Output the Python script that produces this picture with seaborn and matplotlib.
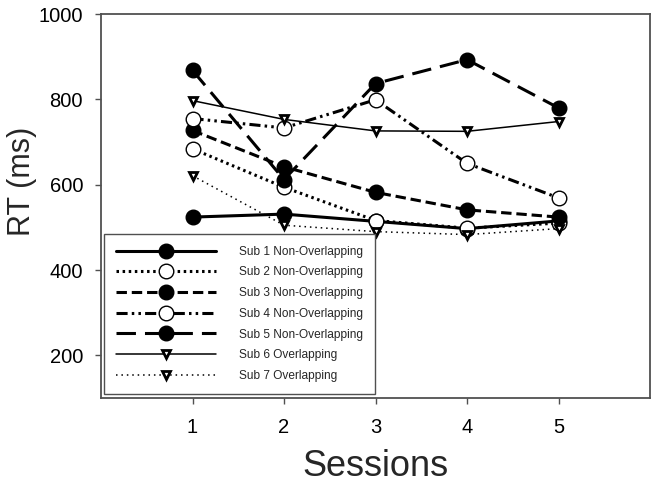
import matplotlib
matplotlib.use('Agg')
import matplotlib.pyplot as plt
import seaborn as sns

# Data
sessions = [1, 2, 3, 4, 5]
sub1 = [524, 531, 514, 497, 515]
sub2 = [684, 594, 516, 498, 510]
sub3 = [727, 642, 582, 541, 524]
sub4 = [755, 733, 799, 650, 569]
sub5 = [868, 612, 837, 893, 780]
sub6 = [797, 753, 726, 725, 748]
sub7 = [621, 505, 490, 483, 497]
labels = ['Sub 1 Non-Overlapping', 'Sub 2 Non-Overlapping', 'Sub 3 Non-Overlapping',
          'Sub 4 Non-Overlapping', 'Sub 5 Non-Overlapping', 'Sub 6 Overlapping',
          'Sub 7 Overlapping']
series = [sub1, sub2, sub3, sub4, sub5, sub6, sub7]

sns.set_style('ticks')
plt.rcParams['font.family'] = ['Liberation Sans', 'DejaVu Sans']
plt.rcParams['lines.scale_dashes'] = False

# line styles (dash patterns in points)
styles = [
    dict(linestyle='-', linewidth=2.2, marker='o', markersize=10.5, markerfacecolor='black'),
    dict(linestyle=(0, (1.8, 2.6)), linewidth=2.2, marker='o', markersize=10.5, markerfacecolor='white'),
    dict(linestyle=(0, (7.5, 3.5)), linewidth=2.2, marker='o', markersize=10.5, markerfacecolor='black'),
    dict(linestyle=(0, (8, 3, 1.8, 3, 1.8, 3)), linewidth=2.2, marker='o', markersize=10.5, markerfacecolor='white'),
    dict(linestyle=(0, (14, 6.5)), linewidth=2.2, marker='o', markersize=10.5, markerfacecolor='black'),
    dict(linestyle='-', linewidth=1.1, marker='v', markersize=6, markerfacecolor='white'),
    dict(linestyle=(0, (1.1, 2.8)), linewidth=1.1, marker='v', markersize=6, markerfacecolor='white'),
]

fig = plt.figure(figsize=(6.55, 4.92), dpi=100)
ax = fig.add_axes([101 / 655, 1 - 398 / 492, 549 / 655, 384 / 492])

for vals, lab, st in zip(series, labels, styles):
    mew = 1.0 if st['marker'] == 'o' else 2.0
    sns.lineplot(x=sessions, y=vals, ax=ax, label=lab, color='black',
                 markeredgecolor='black', markeredgewidth=mew, **st)

ax.set_xlim(0, 6)
ax.set_ylim(100, 1000)
ax.set_xticks(sessions)
ax.set_yticks([200, 400, 600, 800, 1000])

for sp in ax.spines.values():
    sp.set_color('#505050')
    sp.set_linewidth(1.3)

ax.tick_params(axis='both', direction='out', length=4.3, width=1.0,
               color='#505050', labelsize=14.5, labelcolor='black')
ax.tick_params(axis='y', pad=8.6)
ax.tick_params(axis='x', pad=10)

ax.set_xlabel('Sessions', fontsize=26)
ax.set_ylabel('RT (ms)', fontsize=22)
ax.xaxis.set_label_coords(0.5, -0.132)
ax.yaxis.set_label_coords(-0.117, 0.565)

leg = ax.legend(loc='lower left', bbox_to_anchor=(3 / 549, 4 / 384), borderaxespad=0,
                fontsize=8.6, handlelength=8.4, handletextpad=1.9, labelspacing=0.73,
                borderpad=1.0, fancybox=False, edgecolor='#505050', framealpha=1,
                numpoints=1)
leg.get_frame().set_linewidth(1.0)

fig.savefig('out.png', dpi=100)
